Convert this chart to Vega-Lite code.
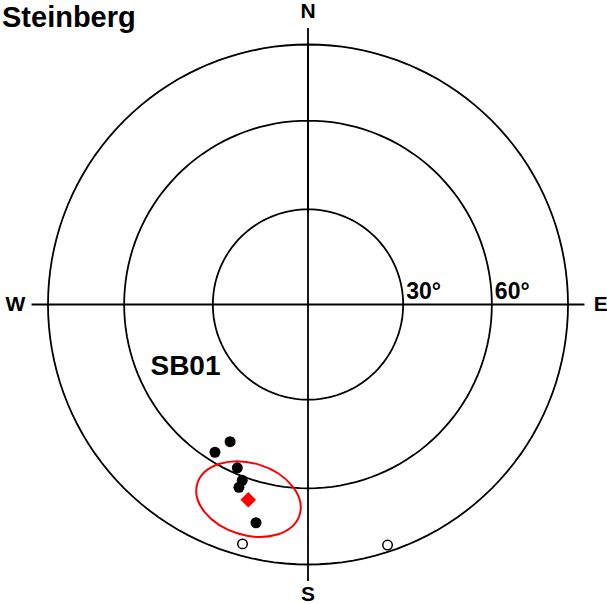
{
  "$schema": "https://vega.github.io/schema/vega-lite/v6.json",
  "width": 607,
  "height": 604,
  "autosize": {"type": "none"},
  "padding": 0,
  "background": "white",
  "config": {"view": {"stroke": null}},
  "title": {
    "text": "Steinberg",
    "anchor": "start",
    "frame": "group",
    "offset": -32.5,
    "dx": 2,
    "font": "Liberation Sans",
    "fontSize": 29,
    "fontWeight": "bold",
    "color": "black"
  },
  "projection": {
    "type": "azimuthalEqualArea",
    "scale": 183.85,
    "translate": [308, 304.5],
    "rotate": [180, -90, 0],
    "reflectX": true
  },
  "layer": [
    {
      "data": {"graticule": {"extentMajor": [[-180, 0], [180, 61]], "extentMinor": [[0, 0], [1, 1]], "stepMajor": [360, 30]}},
      "mark": {"type": "geoshape", "filled": false, "stroke": "black", "strokeWidth": 1.8},
      "encoding": {}
    },
    {
      "data": {"values": [
        {"dec": 0, "inc": -7.5, "dec2": 180, "inc2": -7.5},
        {"dec": 90, "inc": -7.5, "dec2": 270, "inc2": -7.5}
      ]},
      "mark": {"type": "rule", "stroke": "black", "strokeWidth": 1.8},
      "encoding": {
        "longitude": {"field": "dec", "type": "quantitative"},
        "latitude": {"field": "inc", "type": "quantitative"},
        "longitude2": {"field": "dec2"},
        "latitude2": {"field": "inc2"}
      }
    },
    {
      "data": {"values": [
        {"dec": 197.0, "inc": 22.8, "a95": 13.4}
      ]},
      "mark": {
        "type": "point",
        "shape": "M -1 0 C -1 -0.372 -0.552 -0.673 0 -0.673 C 0.552 -0.673 1 -0.372 1 0 C 1 0.372 0.552 0.673 0 0.673 C -0.552 0.673 -1 0.372 -1 0 Z",
        "size": 11449,
        "angle": 17,
        "filled": false,
        "stroke": "#ff0000",
        "strokeWidth": 2,
        "opacity": 1
      },
      "encoding": {
        "longitude": {"field": "dec", "type": "quantitative"},
        "latitude": {"field": "inc", "type": "quantitative"}
      }
    },
    {
      "data": {"values": [
        {"sample": 1, "dec": 209.6, "inc": 39.2},
        {"sample": 2, "dec": 212.2, "inc": 33.3},
        {"sample": 3, "dec": 203.4, "inc": 32.1},
        {"sample": 4, "dec": 200.5, "inc": 28.6},
        {"sample": 5, "dec": 200.7, "inc": 25.8},
        {"sample": 6, "dec": 193.4, "inc": 14.8}
      ]},
      "mark": {"type": "point", "shape": "circle", "filled": true, "fill": "black", "stroke": null, "size": 121, "opacity": 1},
      "encoding": {
        "longitude": {"field": "dec", "type": "quantitative"},
        "latitude": {"field": "inc", "type": "quantitative"}
      }
    },
    {
      "data": {"values": [
        {"sample": 7, "dec": 195.3, "inc": 5.1},
        {"sample": 8, "dec": 161.7, "inc": 2.9}
      ]},
      "mark": {"type": "point", "shape": "circle", "filled": false, "fill": "white", "fillOpacity": 1, "stroke": "black", "strokeWidth": 1.5, "size": 90, "opacity": 1},
      "encoding": {
        "longitude": {"field": "dec", "type": "quantitative"},
        "latitude": {"field": "inc", "type": "quantitative"}
      }
    },
    {
      "data": {"values": [
        {"dec": 197.0, "inc": 22.5}
      ]},
      "mark": {"type": "point", "shape": "diamond", "filled": true, "fill": "#ff0000", "stroke": null, "size": 240, "opacity": 1},
      "encoding": {
        "longitude": {"field": "dec", "type": "quantitative"},
        "latitude": {"field": "inc", "type": "quantitative"}
      }
    },
    {
      "data": {"values": [
        {"label": "N", "dec": 0, "inc": -15.5},
        {"label": "E", "dec": 90, "inc": -15.5},
        {"label": "S", "dec": 180, "inc": -14.5},
        {"label": "W", "dec": 270, "inc": -15.5}
      ]},
      "mark": {"type": "text", "font": "Liberation Sans", "fontSize": 21, "fontWeight": "bold", "fill": "black", "align": "center", "baseline": "middle"},
      "encoding": {
        "longitude": {"field": "dec", "type": "quantitative"},
        "latitude": {"field": "inc", "type": "quantitative"},
        "text": {"field": "label"}
      }
    },
    {
      "data": {"values": [
        {"label": "30°", "dec": 90, "inc": 60},
        {"label": "60°", "dec": 90, "inc": 30}
      ]},
      "mark": {"type": "text", "font": "Liberation Sans", "fontSize": 23, "fontWeight": "bold", "fill": "black", "align": "left", "baseline": "alphabetic", "dx": 3, "dy": -6},
      "encoding": {
        "longitude": {"field": "dec", "type": "quantitative"},
        "latitude": {"field": "inc", "type": "quantitative"},
        "text": {"field": "label"}
      }
    },
    {
      "data": {"values": [
        {"label": "SB01", "dec": 242.8, "inc": 46}
      ]},
      "mark": {"type": "text", "font": "Liberation Sans", "fontSize": 28, "fontWeight": "bold", "fill": "black", "align": "center", "baseline": "middle"},
      "encoding": {
        "longitude": {"field": "dec", "type": "quantitative"},
        "latitude": {"field": "inc", "type": "quantitative"},
        "text": {"field": "label"}
      }
    }
  ]
}
